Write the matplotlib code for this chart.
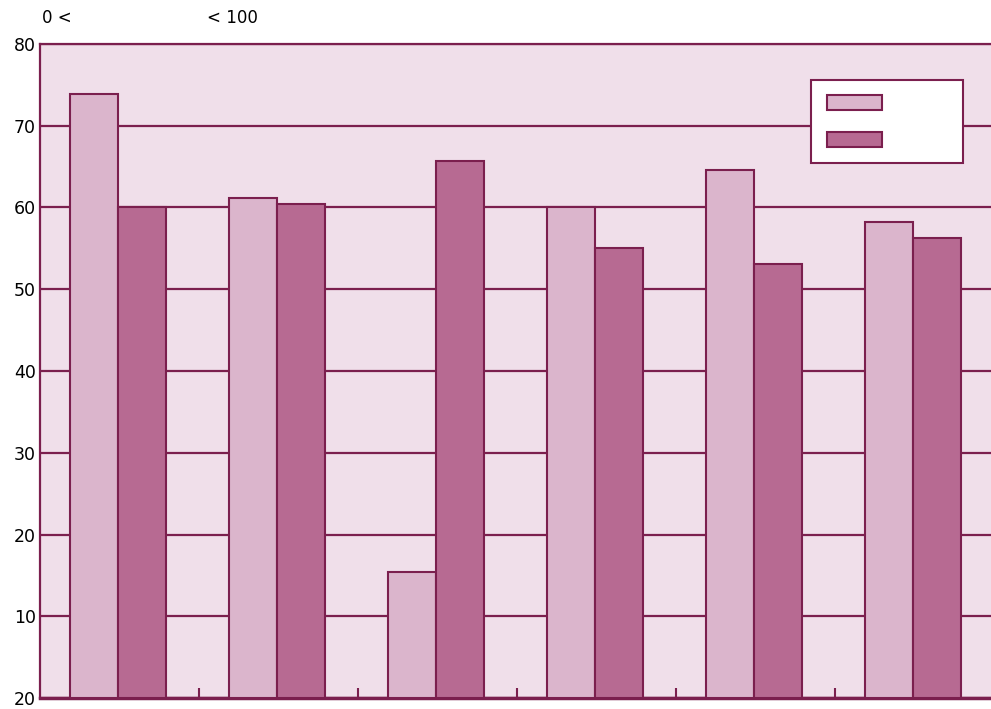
import matplotlib
matplotlib.use("Agg")
import matplotlib.pyplot as plt
import numpy as np
from matplotlib.patches import Patch

# values
groups = ["G1", "G2", "G3", "G4", "G5", "G6"]
series_a = [73.9, 61.2, 15.4, 60.0, 64.6, 58.2]
series_b = [60.0, 60.4, 65.7, 55.0, 53.1, 56.3]
y_ticks = [0, 10, 20, 30, 40, 50, 60, 70, 80]
y_tick_labels = ["20", "10", "20", "30", "40", "50", "60", "70", "80"]

EDGE = "#7b1f4e"
BG = "#f0dfea"
LIGHT = "#dbb5cc"
DARK = "#b76a92"

fig = plt.figure(figsize=(9.91, 7.09), dpi=100)
ax = fig.add_axes([40 / 991, 1 - 698 / 709, 954 / 991, 654 / 709])
ax.set_facecolor(BG)

x = np.arange(len(groups)) + 0.49
width = 0.30
ax.set_axisbelow(True)
ax.yaxis.grid(True, color=EDGE, linewidth=1.6)
ax.bar(x - width, series_a, width, align="edge", color=LIGHT, edgecolor=EDGE,
       linewidth=1.5, zorder=3)
ax.bar(x, series_b, width, align="edge", color=DARK, edgecolor=EDGE,
       linewidth=1.5, zorder=3)

ax.set_xlim(0, 6)
ax.set_ylim(0, 80)
ax.set_yticks(y_ticks)
ax.set_yticklabels(y_tick_labels, fontsize=12.5)
ax.tick_params(axis="y", length=0, pad=3)
ax.set_xticks(np.arange(1, 6))
ax.set_xticklabels([])
ax.tick_params(axis="x", direction="in", length=7, width=1.5, color=EDGE)

for side, spine in ax.spines.items():
    spine.set_color(EDGE)
    spine.set_linewidth(1.6)
ax.spines["bottom"].set_linewidth(2.5)
ax.spines["right"].set_visible(False)

handles = [Patch(facecolor=LIGHT, edgecolor=EDGE, linewidth=1.5),
           Patch(facecolor=DARK, edgecolor=EDGE, linewidth=1.5)]
leg = ax.legend(handles, [" " * 12, " " * 12], loc="upper right",
                bbox_to_anchor=((963 - 40) / 954, (698 - 80) / 654),
                borderaxespad=0, frameon=True, fancybox=False,
                handlelength=3.6, handleheight=1.1, handletextpad=0.5,
                labelspacing=1.4, borderpad=1.0, fontsize=11)
leg.get_frame().set_edgecolor(EDGE)
leg.get_frame().set_linewidth(1.5)
leg.get_frame().set_facecolor("white")
leg.get_frame().set_alpha(1)

fig.text(42 / 991, 1 - 18 / 709, "0 <", fontsize=12, va="center")
fig.text(207 / 991, 1 - 18 / 709, "< 100", fontsize=12, va="center")

fig.savefig("out.png", dpi=100)
